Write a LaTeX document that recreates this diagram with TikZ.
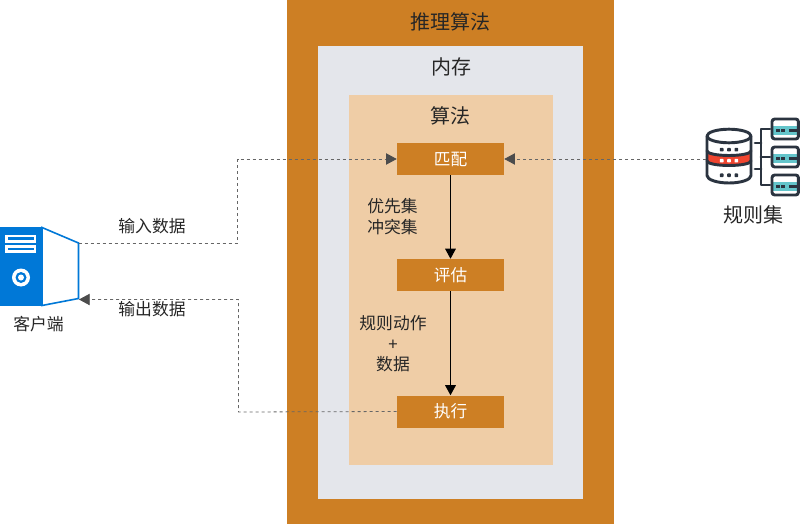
\documentclass[tikz,border=0pt]{standalone}
\usepackage{fontspec}
\setmainfont{Noto Sans CJK SC}
\usetikzlibrary{arrows.meta}
\definecolor{ochre}{HTML}{CD7F24}
\definecolor{memgray}{HTML}{E4E6EB}
\definecolor{peach}{HTML}{EFCDA6}
\definecolor{cblue}{HTML}{0078D7}
\definecolor{dbdark}{HTML}{2B3440}
\definecolor{dbred}{HTML}{F0452F}
\definecolor{dbteal}{HTML}{63C5CB}
\tikzset{
  x=0.75pt,y=-0.75pt,
  stepbox/.style={fill=ochre,draw=none,minimum width=80.25pt,minimum height=24pt,inner sep=0pt,text=white,font=\fontsize{12.5}{14}\selectfont},
  title/.style={font=\fontsize{15}{18}\selectfont,text=black!85,inner sep=0pt},
  lab/.style={font=\fontsize{12.6}{15.5}\selectfont,text=black!85,inner sep=0pt,align=center},
  flow/.style={draw=black,line width=0.75pt,-{Triangle[length=7.5pt,width=8pt]}},
  dashline/.style={draw=black!60,line width=0.6pt,dash pattern=on 2.4pt off 2.1pt},
  dasharrow/.style={dashline,-{Triangle[length=8pt,width=8.5pt,color=black!70,fill=black!70]}},
  dbline/.style={draw=dbdark,line width=2.2pt,line cap=round,line join=round},
}
\begin{document}
\begin{tikzpicture}
\useasboundingbox (0,0) rectangle (800,524);
\fill[white] (0,0) rectangle (800,524);
\fill[ochre] (287,0) rectangle (614,524);
\fill[memgray] (318,46) rectangle (583,499);
\fill[peach] (349,95) rectangle (553,465);
\node[title] (tInf) at (450.5,22) {推理算法};
\node[title] (tMem) at (451,67) {内存};
\node[title] (tAlg) at (450.5,116) {算法};
\node[stepbox] (match) at (450.5,159) {匹配};
\node[stepbox] (eval) at (450.5,275) {评估};
\node[stepbox] (exec) at (450.5,411.5) {执行};
\draw[flow] (match) -- (eval);
\draw[flow] (eval) -- (exec);
\node[lab] (l1) at (392.5,216.5) {优先集\\冲突集};
\node[lab] (l2) at (393,344) {规则动作\\+\\数据};
% client icon
\fill[cblue] (0,227) rectangle (42,306);
\draw[cblue,line width=1.2pt,fill=white] (42,227.5) -- (78.5,243) -- (78.5,298.5) -- (42,305.5) -- cycle;
\fill[white] (5,235) rectangle (36,243);
\fill[cblue] (7.5,237.5) rectangle (33.5,240.5);
\fill[white] (5,245.5) rectangle (36,253);
\fill[cblue] (7.5,248) rectangle (33.5,250.5);
\fill[white] (21,277.5) circle[radius=9];
\fill[cblue] (21,277.5) circle[radius=5.5];
\fill[white] (21,277.5) circle[radius=3];
\coordinate (cOut) at (78.5,243);
\coordinate (cIn) at (79,299.5);
\node[lab] (client) at (38.5,324) {客户端};
\node[lab] (lin) at (152,226.5) {输入数据};
\node[lab] (lout) at (152,309.5) {输出数据};
% db icon
\coordinate (dbL) at (706,159);
\fill[dbred] (707,151) arc[start angle=180,end angle=360,x radius=22,y radius=-4.5] -- (751,161) arc[start angle=0,end angle=180,x radius=22,y radius=4.5] -- cycle;
\draw[dbline] (729,136) ellipse[x radius=22,y radius=6.8];
\draw[dbline] (707,136) -- (707,175.5) arc[start angle=180,end angle=360,x radius=22,y radius=-7.5] -- (751,136);
\draw[dbline] (707,151) arc[start angle=180,end angle=360,x radius=22,y radius=-4.5];
\draw[dbline] (707,161) arc[start angle=180,end angle=360,x radius=22,y radius=-4.5];
\foreach \yy/\cc in {149.7/dbdark,160.7/white,175.3/dbdark}{
  \foreach \xx in {721.7,729,736.3}{\fill[\cc,rounded corners=0.5pt] (\xx-1.8,\yy-1.8) rectangle (\xx+1.8,\yy+1.8);}
}
\foreach \yy in {129,157,185}{
  \fill[white] (772,\yy-10) rectangle (799,\yy+10);
  \fill[dbteal] (772,\yy-3) rectangle (799,\yy+6);
  \draw[dbline,rounded corners=2pt] (772,\yy-10) rectangle (798.4,\yy+10);
  \fill[dbdark] (776.3,\yy) rectangle (779.7,\yy+3.2);
  \fill[dbdark] (781.3,\yy) rectangle (784.7,\yy+3.2);
  \fill[dbdark] (789,\yy) rectangle (798,\yy+3.2);
}
\draw[dbline] (770,129) -- (761,129) -- (761,185) -- (770,185);
\draw[dbline] (755,143) -- (761,143);
\draw[dbline] (755,169) -- (761,169);
\draw[dbline] (761,157) -- (770,157);
\node[title] (rules) at (753,215) {规则集};
% connectors
\draw[dasharrow] (cOut) -- (237.5,243) -- (237.5,159) -- (match.west);
\draw[dasharrow] (exec.west) -- (238.5,412) -- (238.5,299.5) -- (cIn);
\draw[dasharrow] (dbL) -- (match.east);
\end{tikzpicture}
\end{document}
